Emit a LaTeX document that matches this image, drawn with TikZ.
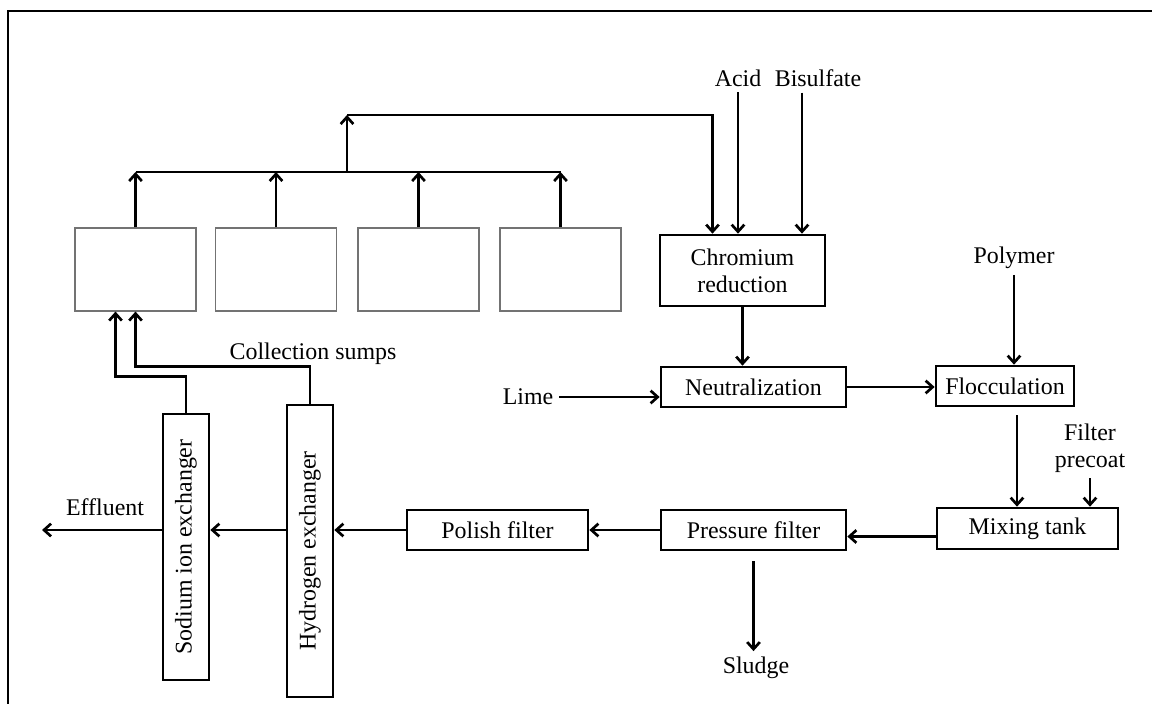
\documentclass[tikz,border=0pt]{standalone}
\usepackage{fontspec}
\setmainfont{Liberation Serif}
\usepackage{graphicx}
\usetikzlibrary{arrows.meta}

\begin{document}
\begin{tikzpicture}[x=0.025cm, y=-0.025cm, line width=1.9pt,
    >={Straight Barb[length=5pt,width=9pt]},
    every node/.style={font=\fontsize{17}{19}\selectfont},
    proc/.style={draw, minimum height=1cm, inner sep=2pt, align=center},
    sump/.style={draw=black!55, line width=0.8pt, minimum width=3.025cm, minimum height=2.075cm},
    column/.style={draw, minimum width=1.15cm, inner sep=2pt}]
    \useasboundingbox (0,0) rectangle (1152,704);
    \draw[line width=1.8pt] (8,704) -- (8,11) -- (1152,11);

    \node[sump] (s1) at (135.5,269.5) {};
    \node[sump] (s2) at (276,269.5) {};
    \node[sump] (s3) at (418.5,269.5) {};
    \node[sump] (s4) at (560.5,269.5) {};

    \node[proc, minimum width=4.125cm, minimum height=1.775cm] (chrom) at (742.5,270.5) {Chromium\\reduction};
    \node[proc, minimum width=4.625cm] (neut) at (753.5,387) {Neutralization};
    \node[proc, minimum width=3.45cm] (floc) at (1005,386) {Flocculation};
    \node[proc, minimum width=4.525cm, minimum height=1.025cm] (mix) at (1027.5,528.5) {Mixing tank};
    \node[proc, minimum width=4.625cm] (press) at (753.5,530) {Pressure filter};
    \node[proc, minimum width=4.525cm] (polish) at (497.5,530) {Polish filter};
    \node[column, minimum height=7.3cm] (hydro) at (310,551) {\rotatebox{90}{Hydrogen exchanger}};
    \node[column, minimum height=6.65cm] (sodium) at (186,547) {\rotatebox{90}{Sodium ion exchanger}};

    \node (acid) at (738,78) {Acid};
    \node (bisul) at (818,78) {Bisulfate};
    \node (lime) at (528,397) {Lime};
    \node (poly) at (1014,258) {Polymer};
    \node[align=center] (precoat) at (1090,448) {Filter\\precoat};
    \node (sludge) at (756,668) {Sludge};
    \node (efflu) at (105,507) {Effluent};
    \node (sumps) at (313,354) {Collection sumps};

    \coordinate (bus) at (0,172);
    \coordinate (hub) at (347,172);
    \coordinate (top) at (347,115);
    \coordinate (out) at (42,530);

    \draw[->] (s1.north) -- (s1.north |- bus);
    \draw[->] (s2.north) -- (s2.north |- bus);
    \draw[->] (s3.north) -- (s3.north |- bus);
    \draw[->] (s4.north) -- (s4.north |- bus);
    \draw (s1.north |- bus) -- (s4.north |- bus);
    \draw[->] (hub) -- (top);
    \draw[->] (top) -| ([xshift=-0.75cm]chrom.north);

    \draw[->] (acid) -- (acid |- chrom.north);
    \draw[->] ([xshift=-0.4cm]bisul.south) -- ([xshift=-0.4cm]bisul.south |- chrom.north);
    \draw[->] (chrom.south) -- (chrom.south |- neut.north);
    \draw[->] (lime) -- (lime -| neut.west);
    \draw[->] (neut.east) -- (neut.east -| floc.west);
    \draw[->] (poly) -- (poly |- floc.north);
    \draw[->] ([xshift=0.3cm,yshift=-0.2cm]floc.south) -- ([xshift=0.3cm]floc.south |- mix.north);
    \draw[->] (precoat) -- (precoat |- mix.north);
    \draw[->] ([yshift=-0.2cm]mix.west) -- ([yshift=-0.2cm]mix.west -| press.east);
    \draw[->] ([yshift=-0.25cm]press.south) -- (press.south |- sludge.north);
    \draw[->] (press.west) -- (polish.east);
    \draw[->] (polish.west) -- (polish.west -| hydro.east);
    \draw[->] (hydro.west |- polish.west) -- (sodium.east |- polish.west);
    \draw[->] (sodium.west |- polish.west) -- (out);

    \draw[->] (sodium.north) -- ++(0,-36) -| ([xshift=-0.5cm]s1.south);
    \draw[->] (hydro.north) -- ++(0,-37) -| (s1.south);
\end{tikzpicture}
\end{document}
